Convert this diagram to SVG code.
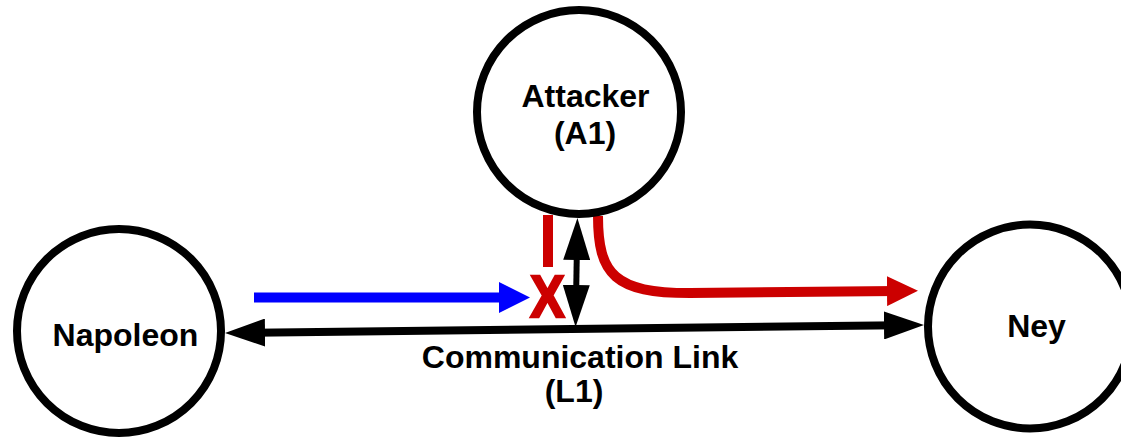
<svg xmlns="http://www.w3.org/2000/svg" width="1121" height="438" viewBox="0 0 1121 438">
  <style>
    .node { fill: none; stroke: #000; stroke-width: 8; }
    .label { font-family: "Liberation Sans", Arial, sans-serif; font-weight: bold; font-size: 32px; fill: #000; text-anchor: middle; }
    .link { fill: none; stroke: #000; stroke-width: 8; }
    .tap { fill: none; stroke: #000; stroke-width: 6; }
    .msg { fill: none; stroke: #0000ff; stroke-width: 10; }
    .forged { fill: none; stroke: #cc0000; stroke-width: 10; }
  </style>
  <defs>
    <marker id="headLink" markerUnits="userSpaceOnUse" viewBox="0 0 40 28" refX="15" refY="14" markerWidth="40" markerHeight="28" orient="auto-start-reverse">
      <path d="M0,0 L40,14 L0,28 Z" fill="#000"/>
    </marker>
    <marker id="headTap" markerUnits="userSpaceOnUse" viewBox="0 0 42 27" refX="17" refY="13.5" markerWidth="42" markerHeight="27" orient="auto-start-reverse">
      <path d="M0,0 L42,13.5 L0,27 Z" fill="#000"/>
    </marker>
    <marker id="headBlue" markerUnits="userSpaceOnUse" viewBox="0 0 31 31" refX="10" refY="15.5" markerWidth="31" markerHeight="31" orient="auto">
      <path d="M0,0 L31,15.5 L0,31 Z" fill="#0000ff"/>
    </marker>
    <marker id="headRed" markerUnits="userSpaceOnUse" viewBox="0 0 31 30" refX="10" refY="15" markerWidth="31" markerHeight="30" orient="auto">
      <path d="M0,0 L31,15 L0,30 Z" fill="#cc0000"/>
    </marker>
  </defs>

  <rect width="1121" height="438" fill="#fff"/>

  <!-- connectors -->
  <g id="connectors">
    <path id="link-L1" class="link" d="M250,332.7 L899,325.3" marker-start="url(#headLink)" marker-end="url(#headLink)"/>
    <path id="tap-A1" class="tap" d="M577,243 L576,302" marker-start="url(#headTap)" marker-end="url(#headTap)"/>
    <path id="msg-original" class="msg" d="M254,297.5 L509,297.5" marker-end="url(#headBlue)"/>
    <path id="msg-blocked" class="forged" d="M548,215 V267"/>
    <path id="msg-forged" class="forged" d="M598,216 C598,275 615,293 690,293 L897,291" marker-end="url(#headRed)"/>
    <text id="block-mark" x="0" y="0" transform="translate(547.5,317) scale(0.86,1)" font-family="Liberation Sans, Arial, sans-serif" font-weight="bold" font-size="60" fill="#cc0000" stroke="#cc0000" stroke-width="2.5" text-anchor="middle">X</text>
    <text class="label" x="580" y="368">Communication Link</text>
    <text class="label" x="574" y="402">(L1)</text>
  </g>

  <!-- nodes -->
  <g id="node-napoleon">
    <circle class="node" cx="119" cy="331" r="102"/>
    <text class="label" x="125.5" y="346">Napoleon</text>
  </g>
  <g id="node-attacker">
    <circle class="node" cx="579" cy="112" r="102"/>
    <text class="label" x="585.5" y="107">Attacker</text>
    <text class="label" x="585" y="144">(A1)</text>
  </g>
  <g id="node-ney">
    <circle class="node" cx="1030" cy="326.5" r="102"/>
    <text class="label" x="1036.5" y="337">Ney</text>
  </g>
</svg>
